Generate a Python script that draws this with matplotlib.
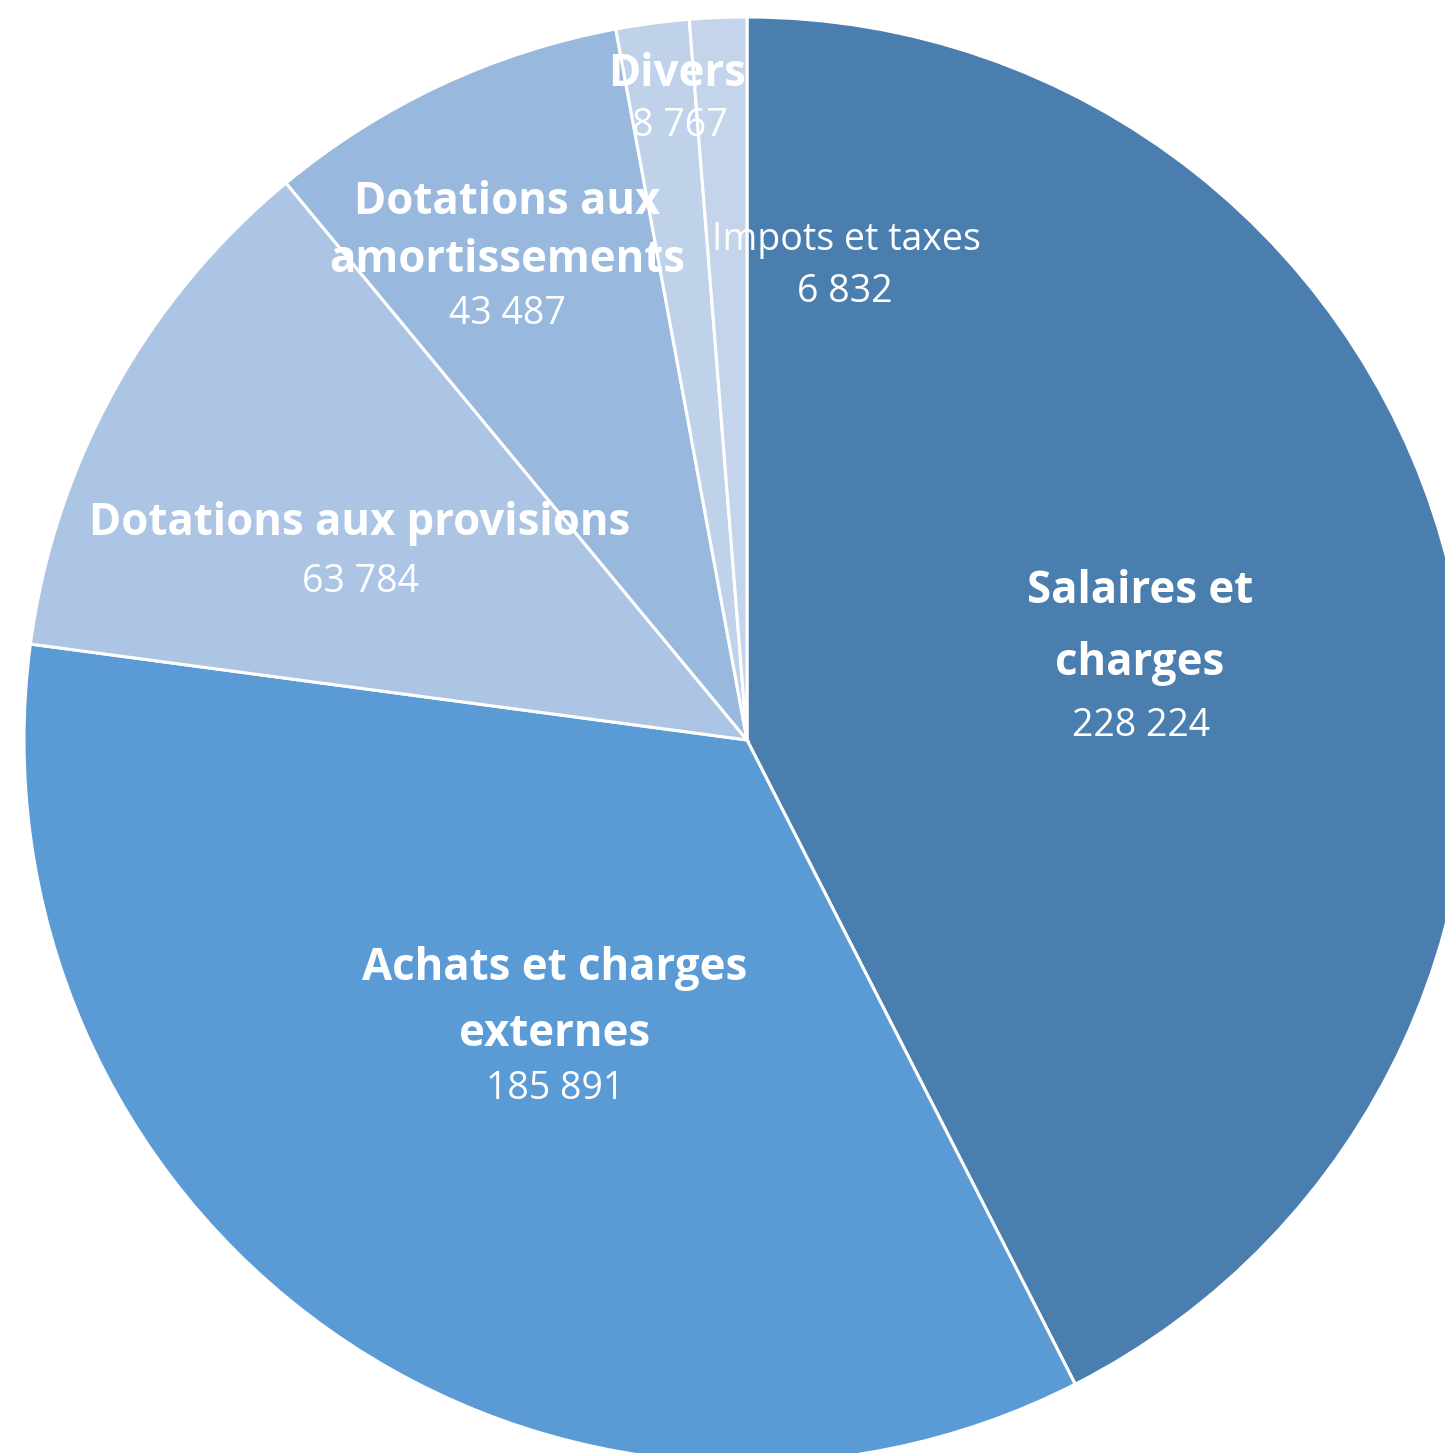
import matplotlib
matplotlib.use("Agg")
import matplotlib.pyplot as plt

categories = ["Salaires et charges", "Achats et charges externes", "Dotations aux provisions",
              "Dotations aux amortissements", "Divers", "Impots et taxes"]
values = [228224, 185891, 63784, 43487, 8767, 6832]
colors = ["#4A7EAF", "#5B9BD5", "#ADC5E5", "#98B8DE", "#BFD2EA", "#C3D4EB"]

# label lines (name split as in the chart), bold flag
label_lines = [["Salaires et", "charges"], ["Achats et charges", "externes"],
               ["Dotations aux provisions"], ["Dotations aux", "amortissements"],
               ["Divers"], ["Impots et taxes"]]
label_bold = [True, True, True, True, True, False]

W, H = 1445, 1453
CX, CY, R = 747, 740, 723

fig = plt.figure(figsize=(W / 100, H / 100), dpi=100)
ax = fig.add_axes([0, 0, 1, 1])
ax.pie(values, colors=colors, startangle=90, counterclock=False, radius=1.0,
       wedgeprops=dict(edgecolor="white", linewidth=2.2))
ax.set_xlim(-CX / R, (W - CX) / R)
ax.set_ylim(-(H - CY) / R, CY / R)
ax.set_aspect("auto")
ax.axis("off")

def px(x, y):
    return (x - CX) / R, (CY - y) / R

def fmt(v):
    return f"{v:,}".replace(",", " ")

FONT = "Open Sans"
BOLD_FS, NORM_FS = 31.5, 27
DY = 4
# label layout (pixel centres for each line, then value line)
layout = [
    ([(1140, 588), (1140, 660)], (1141, 722)),
    ([(555, 965), (555, 1030)], (555, 1085)),
    ([(360, 520)], (360, 578)),
    ([(507, 198), (507, 256)], (507, 310)),
    ([(677, 70)], (680, 122)),
    ([(846, 236)], (845, 288)),
]
for lines, bold, val, (pos_lines, pos_val) in zip(label_lines, label_bold, values, layout):
    for line, (x, y) in zip(lines, pos_lines):
        fs = BOLD_FS if bold else NORM_FS
        ax.text(*px(x, y + DY), line, ha="center", va="center", color="white", zorder=5,
                fontsize=fs, fontweight="bold" if bold else "normal", family=FONT)
    vx, vy = pos_val
    ax.text(*px(vx, vy + DY), fmt(val), ha="center", va="center", color="white", zorder=5,
            fontsize=NORM_FS, family=FONT)

fig.savefig("out.png", dpi=100)
